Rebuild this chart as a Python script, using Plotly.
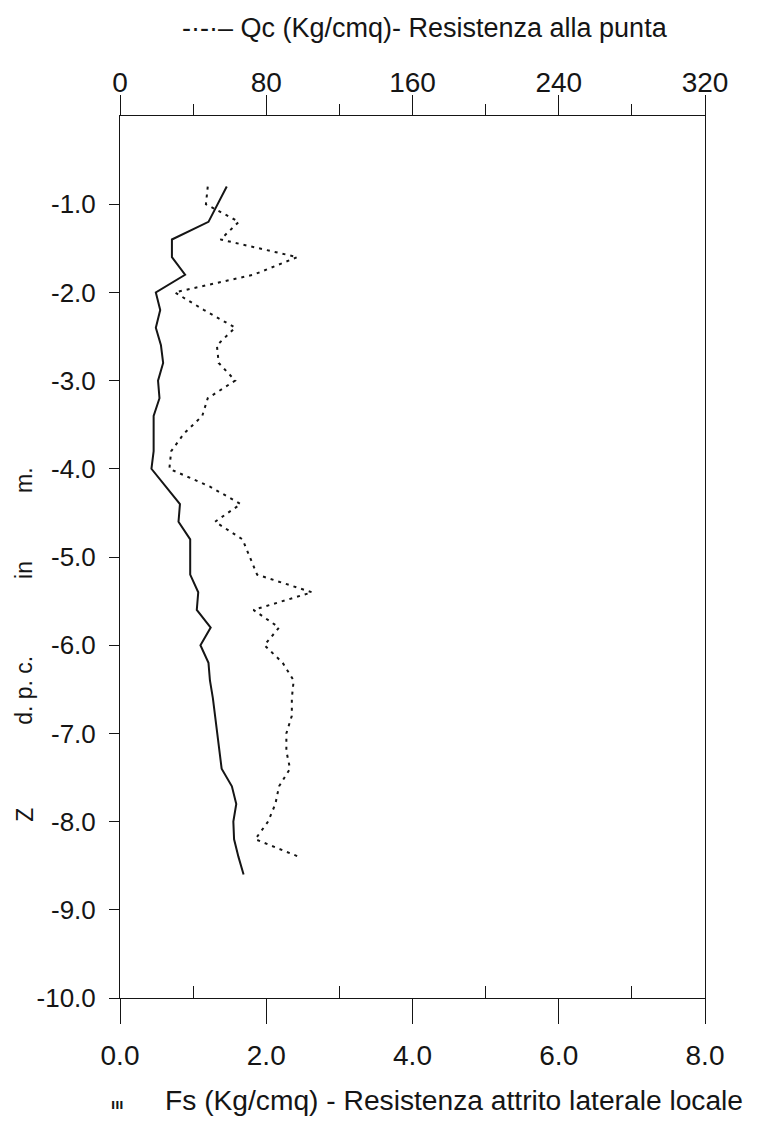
import plotly.graph_objects as go

# ---------------- data ----------------
# Fs (Kg/cmq) - solid line, bottom axis
fs_depth = [-0.8, -1.0, -1.2, -1.4, -1.6, -1.8, -2.0, -2.2, -2.4, -2.6,
            -2.8, -3.0, -3.2, -3.4, -3.6, -3.8, -4.0, -4.2, -4.4, -4.6,
            -4.8, -5.0, -5.2, -5.4, -5.6, -5.8, -6.0, -6.2, -6.4, -6.6,
            -6.8, -7.0, -7.2, -7.4, -7.6, -7.8, -8.0, -8.2, -8.4, -8.6]
fs_values = [1.46, 1.34, 1.21, 0.71, 0.71, 0.89, 0.49, 0.55, 0.49, 0.56,
             0.59, 0.52, 0.54, 0.46, 0.46, 0.46, 0.43, 0.63, 0.82, 0.80,
             0.96, 0.96, 0.96, 1.07, 1.05, 1.24, 1.10, 1.21, 1.23, 1.27,
             1.30, 1.34, 1.37, 1.39, 1.53, 1.59, 1.55, 1.56, 1.62, 1.69]

# Qc (Kg/cmq) - dotted line, top axis
qc_depth = [-0.8, -1.0, -1.2, -1.4, -1.6, -1.8, -2.0, -2.2, -2.4, -2.6,
            -2.8, -3.0, -3.2, -3.4, -3.6, -3.8, -4.0, -4.2, -4.4, -4.6,
            -4.8, -5.0, -5.2, -5.4, -5.6, -5.8, -6.0, -6.2, -6.4, -6.6,
            -6.8, -7.0, -7.2, -7.4, -7.6, -7.8, -8.0, -8.2, -8.4]
qc_values = [48, 47, 65, 55, 97, 73, 30, 46, 63, 53,
             54, 63, 48, 45, 35, 28, 27, 49, 66, 52,
             67, 71, 75, 105, 73, 87, 79, 89, 95, 94,
             94, 91, 91, 93, 87, 85, 81, 74, 98]

# axis ticks
fs_ticks = [0, 2, 4, 6, 8]
fs_ticklabels = ["0.0", "2.0", "4.0", "6.0", "8.0"]
fs_minor = [1, 3, 5, 7]
qc_ticks = [0, 80, 160, 240, 320]
qc_ticklabels = ["0", "80", "160", "240", "320"]
qc_minor = [40, 120, 200, 280]
depth_ticks = [-1, -2, -3, -4, -5, -6, -7, -8, -9, -10]
depth_ticklabels = ["-1.0", "-2.0", "-3.0", "-4.0", "-5.0",
                    "-6.0", "-7.0", "-8.0", "-9.0", "-10.0"]

FONT = "Liberation Sans, Arial, sans-serif"
INK = "#151515"

def f(size):
    return dict(family=FONT, size=size, color=INK)

fig = go.Figure()
fig.add_trace(go.Scatter(x=fs_values, y=fs_depth, mode="lines",
                         line=dict(color=INK, width=2), xaxis="x", yaxis="y",
                         showlegend=False))
fig.add_trace(go.Scatter(x=qc_values, y=qc_depth, mode="lines",
                         line=dict(color=INK, width=2, dash="3px,5px"),
                         xaxis="x2", yaxis="y", showlegend=False))

fig.update_layout(
    width=765, height=1126,
    margin=dict(l=112, r=68, t=108, b=136),
    paper_bgcolor="white", plot_bgcolor="white",
    font=f(27),
    xaxis=dict(range=[0, 8], tickvals=fs_ticks, ticktext=fs_ticklabels,
               showline=True, linecolor=INK, linewidth=1,
               ticks="outside", ticklen=25, tickcolor=INK, tickwidth=1,
               ticklabelstandoff=7,
               minor=dict(tickvals=fs_minor, ticks="inside", ticklen=12,
                          tickcolor=INK, tickwidth=1),
               showgrid=False, zeroline=False,
               tickfont=f(28)),
    xaxis2=dict(range=[0, 320], overlaying="x", side="top", anchor="y",
                tickvals=qc_ticks, ticktext=qc_ticklabels,
                showline=True, linecolor=INK, linewidth=1,
                ticks="outside", ticklen=20, tickcolor=INK, tickwidth=1,
                ticklabelstandoff=-8,
                minor=dict(tickvals=qc_minor, ticks="outside", ticklen=11,
                           tickcolor=INK, tickwidth=1),
                showgrid=False, zeroline=False,
                tickfont=f(28)),
    yaxis=dict(range=[-10, 0], tickvals=depth_ticks, ticktext=depth_ticklabels,
               showline=True, mirror=True, linecolor=INK, linewidth=1,
               ticks="outside", ticklen=10, tickcolor=INK, tickwidth=1,
               ticklabelstandoff=8,
               showgrid=False, zeroline=False,
               tickfont=f(26)),
)

ann = [
    dict(text="-·-·– Qc (Kg/cmq)- Resistenza alla punta", x=0.521, y=1.0998,
         xanchor="center", font=f(27)),
    dict(text="Fs (Kg/cmq) - Resistenza attrito laterale locale", x=0.0735, y=-0.1156,
         xanchor="left", font=f(28.2)),
    dict(text="<b>ııı</b>", x=-0.005, y=-0.120, xanchor="center", font=f(15)),
    dict(text="m.", x=-0.163, y=0.587, textangle=-90, xanchor="center", font=f(23)),
    dict(text="in", x=-0.163, y=0.485, textangle=-90, xanchor="center", font=f(23)),
    dict(text="d. p. c.", x=-0.163, y=0.349, textangle=-90, xanchor="center", font=f(23)),
    dict(text="Z", x=-0.163, y=0.2075, textangle=-90, xanchor="center", font=f(23)),
]
for a in ann:
    fig.add_annotation(xref="paper", yref="paper", showarrow=False,
                       yanchor="middle", **a)

fig.write_html("out.html")
